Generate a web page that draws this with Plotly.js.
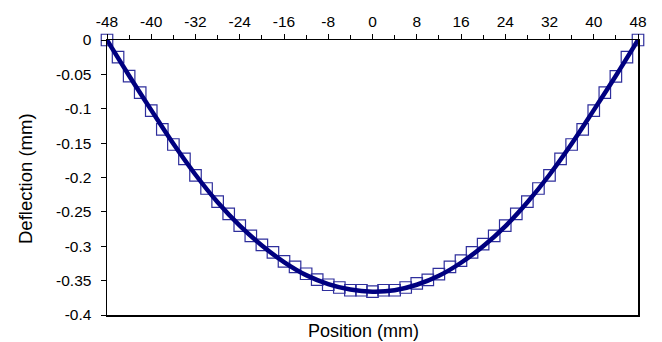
<!DOCTYPE html>
<html>
<head>
<meta charset="utf-8">
<script src="https://cdn.plot.ly/plotly-3.0.1.min.js"></script>
<style>html,body{margin:0;padding:0;background:#fff;}#chart{width:662px;height:342px;}</style>
</head>
<body>
<div id="chart"></div>
<script>
// Measured points (open squares)
var pointPosition = [-48,-46,-44,-42,-40,-38,-36,-34,-32,-30,-28,-26,-24,-22,-20,-18,-16,-14,-12,-10,-8,-6,-4,-2,0,2,4,6,8,10,12,14,16,18,20,22,24,26,28,30,32,34,36,38,40,42,44,46,48];
var pointDeflection = [0,-0.025,-0.0525,-0.0765,-0.1026,-0.130,-0.152,-0.173,-0.197,-0.216,-0.235,-0.253,-0.270,-0.285,-0.298,-0.309,-0.322,-0.330,-0.340,-0.3485,-0.356,-0.360,-0.364,-0.364,-0.366,-0.364,-0.364,-0.360,-0.354,-0.349,-0.3405,-0.330,-0.321,-0.309,-0.297,-0.285,-0.270,-0.253,-0.235,-0.216,-0.197,-0.173,-0.152,-0.130,-0.1026,-0.0765,-0.0528,-0.025,0];
// Smooth curve (thick line)
var curvePosition = [-48,-44,-40,-36,-32,-28,-24,-20,-16,-12,-8,-4,0,4,8,12,16,20,24,28,32,36,40,44,48];
var curveDeflection = [0,-0.052,-0.102,-0.151,-0.196,-0.236,-0.270,-0.299,-0.323,-0.342,-0.355,-0.363,-0.366,-0.364,-0.356,-0.343,-0.324,-0.300,-0.271,-0.236,-0.196,-0.151,-0.102,-0.052,0];
var xTickVals = [-48,-40,-32,-24,-16,-8,0,8,16,24,32,40,48];
var xTickText = ['-48','-40','-32','-24','-16','-8','0','8','16','24','32','40','48'];
var yTickVals = [0,-0.05,-0.1,-0.15,-0.2,-0.25,-0.3,-0.35,-0.4];
var yTickText = ['0','-0.05','-0.1','-0.15','-0.2','-0.25','-0.3','-0.35','-0.4'];
var xTitle = 'Position (mm)';
var yTitle = 'Deflection (mm)';

var font = 'Liberation Sans, Arial, sans-serif';
var traces = [
  {x: pointPosition, y: pointDeflection, type: 'scatter', mode: 'markers', cliponaxis: false,
   marker: {symbol: 'square-open', size: 11.5, color: '#2e2e9c', line: {width: 1.2, color: '#2e2e9c'}}},
  {x: curvePosition, y: curveDeflection, type: 'scatter', mode: 'lines', cliponaxis: false,
   line: {color: '#000080', width: 4.5, shape: 'spline'}}
];
var layout = {
  width: 662, height: 342,
  margin: {l: 107, r: 24, t: 40, b: 27},
  paper_bgcolor: '#fff', plot_bgcolor: '#fff',
  showlegend: false,
  font: {family: font, size: 15.5, color: '#000'},
  xaxis: {side: 'top', range: [-48, 48], tickmode: 'array', tickvals: xTickVals, ticktext: xTickText,
    ticks: 'outside', ticklen: 5, tickwidth: 1, tickcolor: '#000',
    minor: {dtick: 4, ticks: 'outside', ticklen: 4, tickcolor: '#000', tickwidth: 1, showgrid: false},
    showline: true, linecolor: '#000', linewidth: 1.5, mirror: true,
    showgrid: false, zeroline: false, tickfont: {size: 15.5}},
  yaxis: {range: [-0.4, 0], tickmode: 'array', tickvals: yTickVals, ticktext: yTickText,
    ticks: 'outside', ticklen: 5, tickwidth: 1, tickcolor: '#000', ticklabelstandoff: 6,
    showline: true, linecolor: '#000', linewidth: 1.5, mirror: true,
    showgrid: false, zeroline: false, tickfont: {size: 15.5}},
  annotations: [
    {text: xTitle, xref: 'paper', yref: 'paper', x: 0.5, y: 0, xshift: -9, yshift: -15.5,
     showarrow: false, font: {size: 18, family: font}, xanchor: 'center', yanchor: 'middle'},
    {text: yTitle, xref: 'paper', yref: 'paper', x: 0, y: 0.5, xshift: -82, yshift: -1.5, textangle: -90,
     showarrow: false, font: {size: 18.5, family: font}, xanchor: 'center', yanchor: 'middle'}
  ]
};
Plotly.newPlot('chart', traces, layout, {displayModeBar: false, staticPlot: true});
</script>
</body>
</html>
